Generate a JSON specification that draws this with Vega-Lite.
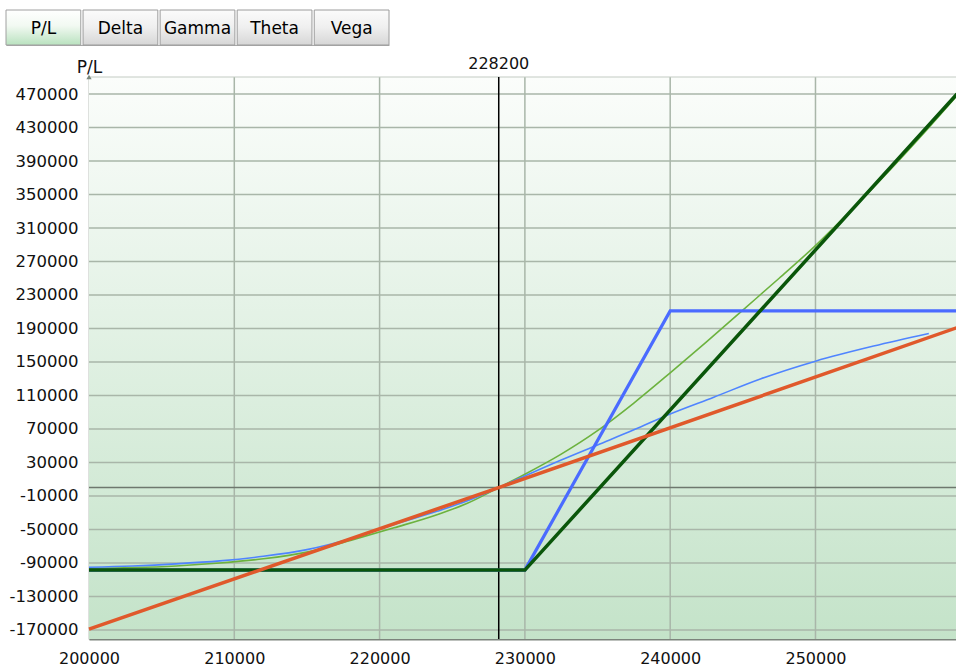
{
  "$schema": "https://vega.github.io/schema/vega-lite/v6.json",
  "padding": {"left": 5, "top": 9, "right": 0, "bottom": 0},
  "background": "white",
  "config": {
    "view": {"stroke": null},
    "font": "DejaVu Sans",
    "concat": {"spacing": 10},
    "axisQuantitative": {
      "labelOverlap": false,
      "labelFlush": false,
      "grid": false,
      "ticks": false,
      "labelColor": "#111111"
    }
  },
  "datasets": {
    "tabs": [
      {"tab": "P/L", "selected": true},
      {"tab": "Delta", "selected": false},
      {"tab": "Gamma", "selected": false},
      {"tab": "Theta", "selected": false},
      {"tab": "Vega", "selected": false}
    ],
    "gridx": [
      {"price": 210000}, {"price": 220000}, {"price": 230000}, {"price": 240000}, {"price": 250000}
    ],
    "gridy": [
      {"pl": -170000}, {"pl": -130000}, {"pl": -90000}, {"pl": -50000}, {"pl": -10000},
      {"pl": 30000}, {"pl": 70000}, {"pl": 110000}, {"pl": 150000}, {"pl": 190000},
      {"pl": 230000}, {"pl": 270000}, {"pl": 310000}, {"pl": 350000}, {"pl": 390000},
      {"pl": 430000}, {"pl": 470000}
    ],
    "one": [{"current": 228200}],
    "series": [
      {"series": "green_curve", "price": 200000, "pl": -96500},
      {"series": "green_curve", "price": 203000, "pl": -95500},
      {"series": "green_curve", "price": 206000, "pl": -93500},
      {"series": "green_curve", "price": 209000, "pl": -90000},
      {"series": "green_curve", "price": 212000, "pl": -85000},
      {"series": "green_curve", "price": 215000, "pl": -77000},
      {"series": "green_curve", "price": 218000, "pl": -63000},
      {"series": "green_curve", "price": 221000, "pl": -48000},
      {"series": "green_curve", "price": 224000, "pl": -32000},
      {"series": "green_curve", "price": 226000, "pl": -19000},
      {"series": "green_curve", "price": 228200, "pl": 0},
      {"series": "green_curve", "price": 230000, "pl": 16000},
      {"series": "green_curve", "price": 232500, "pl": 40000},
      {"series": "green_curve", "price": 235000, "pl": 68000},
      {"series": "green_curve", "price": 237500, "pl": 101000},
      {"series": "green_curve", "price": 240000, "pl": 137000},
      {"series": "green_curve", "price": 242500, "pl": 174000},
      {"series": "green_curve", "price": 245000, "pl": 212000},
      {"series": "green_curve", "price": 247500, "pl": 250000},
      {"series": "green_curve", "price": 250000, "pl": 289000},
      {"series": "green_curve", "price": 252500, "pl": 332000},
      {"series": "green_curve", "price": 255000, "pl": 377000},
      {"series": "green_curve", "price": 257700, "pl": 428000},
      {"series": "green_curve", "price": 259740, "pl": 468000},
      {"series": "blue_curve", "price": 200000, "pl": -95000},
      {"series": "blue_curve", "price": 203000, "pl": -93500},
      {"series": "blue_curve", "price": 206000, "pl": -91000},
      {"series": "blue_curve", "price": 209000, "pl": -87500},
      {"series": "blue_curve", "price": 212000, "pl": -82000},
      {"series": "blue_curve", "price": 215000, "pl": -74000},
      {"series": "blue_curve", "price": 218000, "pl": -61000},
      {"series": "blue_curve", "price": 221000, "pl": -44000},
      {"series": "blue_curve", "price": 224000, "pl": -28000},
      {"series": "blue_curve", "price": 226000, "pl": -16000},
      {"series": "blue_curve", "price": 228200, "pl": 0},
      {"series": "blue_curve", "price": 230000, "pl": 14000},
      {"series": "blue_curve", "price": 232500, "pl": 33000},
      {"series": "blue_curve", "price": 235000, "pl": 51000},
      {"series": "blue_curve", "price": 237500, "pl": 69000},
      {"series": "blue_curve", "price": 240000, "pl": 88000},
      {"series": "blue_curve", "price": 243000, "pl": 108000},
      {"series": "blue_curve", "price": 246250, "pl": 130000},
      {"series": "blue_curve", "price": 250000, "pl": 151000},
      {"series": "blue_curve", "price": 254000, "pl": 169000},
      {"series": "blue_curve", "price": 257800, "pl": 184000},
      {"series": "blue_payoff", "price": 200000, "pl": -98500},
      {"series": "blue_payoff", "price": 230000, "pl": -98500},
      {"series": "blue_payoff", "price": 240000, "pl": 211000},
      {"series": "blue_payoff", "price": 259740, "pl": 211000},
      {"series": "green_payoff", "price": 200000, "pl": -98500},
      {"series": "green_payoff", "price": 230000, "pl": -98500},
      {"series": "green_payoff", "price": 259740, "pl": 470000},
      {"series": "red", "price": 200000, "pl": -169000},
      {"series": "red", "price": 228200, "pl": 0},
      {"series": "red", "price": 259740, "pl": 191000}
    ]
  },
  "vconcat": [
    {
      "width": 868,
      "height": 35,
      "data": {"name": "tabs"},
      "encoding": {
        "x": {
          "field": "tab",
          "type": "nominal",
          "scale": {"domain": ["P/L", "Delta", "Gamma", "Theta", "Vega"], "paddingInner": 0.03, "paddingOuter": 0, "range": [-83, 300]},
          "axis": {"labels": false, "ticks": false, "grid": false, "title": null, "domainColor": "#a8a8a8", "domainWidth": 1}
        }
      },
      "layer": [
        {
          "transform": [{"filter": "datum.selected"}],
          "mark": {
            "type": "bar",
            "stroke": "#a0a0a0",
            "strokeWidth": 1,
            "fill": {"gradient": "linear", "x1": 0, "y1": 0, "x2": 0, "y2": 1, "stops": [{"offset": 0, "color": "#ffffff"}, {"offset": 0.45, "color": "#f2f9f2"}, {"offset": 1, "color": "#b9e2bf"}]}
          }
        },
        {
          "transform": [{"filter": "!datum.selected"}],
          "mark": {
            "type": "bar",
            "stroke": "#9c9c9c",
            "strokeWidth": 1,
            "fill": {"gradient": "linear", "x1": 0, "y1": 0, "x2": 0, "y2": 1, "stops": [{"offset": 0, "color": "#fbfbfb"}, {"offset": 0.5, "color": "#efefef"}, {"offset": 1, "color": "#d6d6d6"}]}
          }
        },
        {
          "mark": {"type": "text", "fontSize": 17, "color": "#000000", "baseline": "middle", "dy": 1},
          "encoding": {"text": {"field": "tab"}}
        }
      ]
    },
    {
      "width": 868,
      "height": 562,
      "data": {"name": "series"},
      "layer": [
        {
          "data": {"name": "one"},
          "mark": {
            "type": "rect",
            "fill": {"gradient": "linear", "x1": 0, "y1": 0, "x2": 0, "y2": 1, "stops": [{"offset": 0, "color": "#fbfdfb"}, {"offset": 1, "color": "#c4e3c9"}]}
          },
          "encoding": {
            "x": {
              "datum": 200000, "type": "quantitative",
              "scale": {"domain": [200000, 259740], "nice": false, "zero": false},
              "axis": {
                "orient": "bottom",
                "values": [200000, 210000, 220000, 230000, 240000, 250000],
                "tickCount": 30,
                "labelExpr": "'' + datum.value",
                "grid": false, "ticks": false, "labelOverlap": false, "labelFlush": false,
                "labelPadding": 11, "labelFontSize": 16, "labelColor": "#111111",
                "domainColor": "#7c847c", "domainWidth": 2, "title": null
              }
            },
            "x2": {"datum": 259740},
            "y": {
              "datum": 490300, "type": "quantitative",
              "scale": {"domain": [-180750, 490300], "nice": false, "zero": false},
              "axis": {
                "orient": "left",
                "values": [-170000, -130000, -90000, -50000, -10000, 30000, 70000, 110000, 150000, 190000, 230000, 270000, 310000, 350000, 390000, 430000, 470000],
                "tickCount": 40,
                "labelExpr": "'' + datum.value",
                "grid": false, "ticks": false, "labelOverlap": false, "labelFlush": false,
                "labelPadding": 11, "labelFontSize": 16.5, "labelColor": "#111111",
                "domainColor": "#7c887c", "domainWidth": 1.5,
                "title": "P/L", "titleAngle": 0, "titleX": 0, "titleY": -5, "titleAlign": "center",
                "titleBaseline": "alphabetic", "titleFontSize": 17, "titleFontWeight": "normal", "titleColor": "#111111"
              }
            },
            "y2": {"datum": -180750}
          }
        },
        {
          "data": {"name": "gridx"},
          "mark": {"type": "rule", "color": "#a9b6a9", "strokeWidth": 1.5},
          "encoding": {
            "x": {"field": "price", "type": "quantitative", "scale": {"domain": [200000, 259740], "nice": false, "zero": false}}
          }
        },
        {
          "data": {"name": "gridy"},
          "mark": {"type": "rule", "color": "#a9b6a9", "strokeWidth": 1.5},
          "encoding": {
            "y": {"field": "pl", "type": "quantitative", "scale": {"domain": [-180750, 490300], "nice": false, "zero": false}}
          }
        },
        {
          "data": {"name": "one"},
          "mark": {"type": "rule", "color": "#c3cbc3", "strokeWidth": 1},
          "encoding": {
            "y": {"datum": 490300, "type": "quantitative", "scale": {"domain": [-180750, 490300], "nice": false, "zero": false}}
          }
        },
        {
          "data": {"name": "one"},
          "mark": {"type": "rule", "color": "#6e786e", "strokeWidth": 1.5},
          "encoding": {
            "y": {"datum": 0, "type": "quantitative", "scale": {"domain": [-180750, 490300], "nice": false, "zero": false}}
          }
        },
        {
          "data": {"name": "one"},
          "mark": {"type": "rule", "color": "#000000", "strokeWidth": 1.5},
          "encoding": {
            "x": {"field": "current", "type": "quantitative", "scale": {"domain": [200000, 259740], "nice": false, "zero": false}}
          }
        },
        {
          "data": {"name": "one"},
          "mark": {"type": "text", "fontSize": 16, "color": "#111111", "baseline": "bottom", "dy": -5},
          "encoding": {
            "x": {"field": "current", "type": "quantitative", "scale": {"domain": [200000, 259740], "nice": false, "zero": false}},
            "y": {"datum": 490300, "type": "quantitative", "scale": {"domain": [-180750, 490300], "nice": false, "zero": false}},
            "text": {"field": "current", "type": "quantitative", "format": "d"}
          }
        },
        {
          "transform": [{"filter": "datum.series == 'green_curve'"}],
          "mark": {"type": "line", "color": "#6cb23e", "strokeWidth": 1.6, "interpolate": "monotone"},
          "encoding": {
            "x": {"field": "price", "type": "quantitative", "scale": {"domain": [200000, 259740], "nice": false, "zero": false}},
            "y": {"field": "pl", "type": "quantitative", "scale": {"domain": [-180750, 490300], "nice": false, "zero": false}}
          }
        },
        {
          "transform": [{"filter": "datum.series == 'blue_curve'"}],
          "mark": {"type": "line", "color": "#4f84ff", "strokeWidth": 1.6, "interpolate": "monotone"},
          "encoding": {
            "x": {"field": "price", "type": "quantitative", "scale": {"domain": [200000, 259740], "nice": false, "zero": false}},
            "y": {"field": "pl", "type": "quantitative", "scale": {"domain": [-180750, 490300], "nice": false, "zero": false}}
          }
        },
        {
          "transform": [{"filter": "datum.series == 'blue_payoff'"}],
          "mark": {"type": "line", "color": "#4a6bff", "strokeWidth": 3.2},
          "encoding": {
            "x": {"field": "price", "type": "quantitative", "scale": {"domain": [200000, 259740], "nice": false, "zero": false}},
            "y": {"field": "pl", "type": "quantitative", "scale": {"domain": [-180750, 490300], "nice": false, "zero": false}}
          }
        },
        {
          "transform": [{"filter": "datum.series == 'green_payoff'"}],
          "mark": {"type": "line", "color": "#0a560a", "strokeWidth": 3.5},
          "encoding": {
            "x": {"field": "price", "type": "quantitative", "scale": {"domain": [200000, 259740], "nice": false, "zero": false}},
            "y": {"field": "pl", "type": "quantitative", "scale": {"domain": [-180750, 490300], "nice": false, "zero": false}}
          }
        },
        {
          "transform": [{"filter": "datum.series == 'red'"}],
          "mark": {"type": "line", "color": "#e0592b", "strokeWidth": 3.5},
          "encoding": {
            "x": {"field": "price", "type": "quantitative", "scale": {"domain": [200000, 259740], "nice": false, "zero": false}},
            "y": {"field": "pl", "type": "quantitative", "scale": {"domain": [-180750, 490300], "nice": false, "zero": false}}
          }
        },
        {
          "data": {"name": "one"},
          "mark": {"type": "point", "shape": "triangle-up", "size": 28, "filled": true, "color": "#7c887c", "opacity": 1},
          "encoding": {
            "x": {"datum": 200000, "type": "quantitative", "scale": {"domain": [200000, 259740], "nice": false, "zero": false}},
            "y": {"datum": 490300, "type": "quantitative", "scale": {"domain": [-180750, 490300], "nice": false, "zero": false}}
          }
        }
      ]
    }
  ]
}
